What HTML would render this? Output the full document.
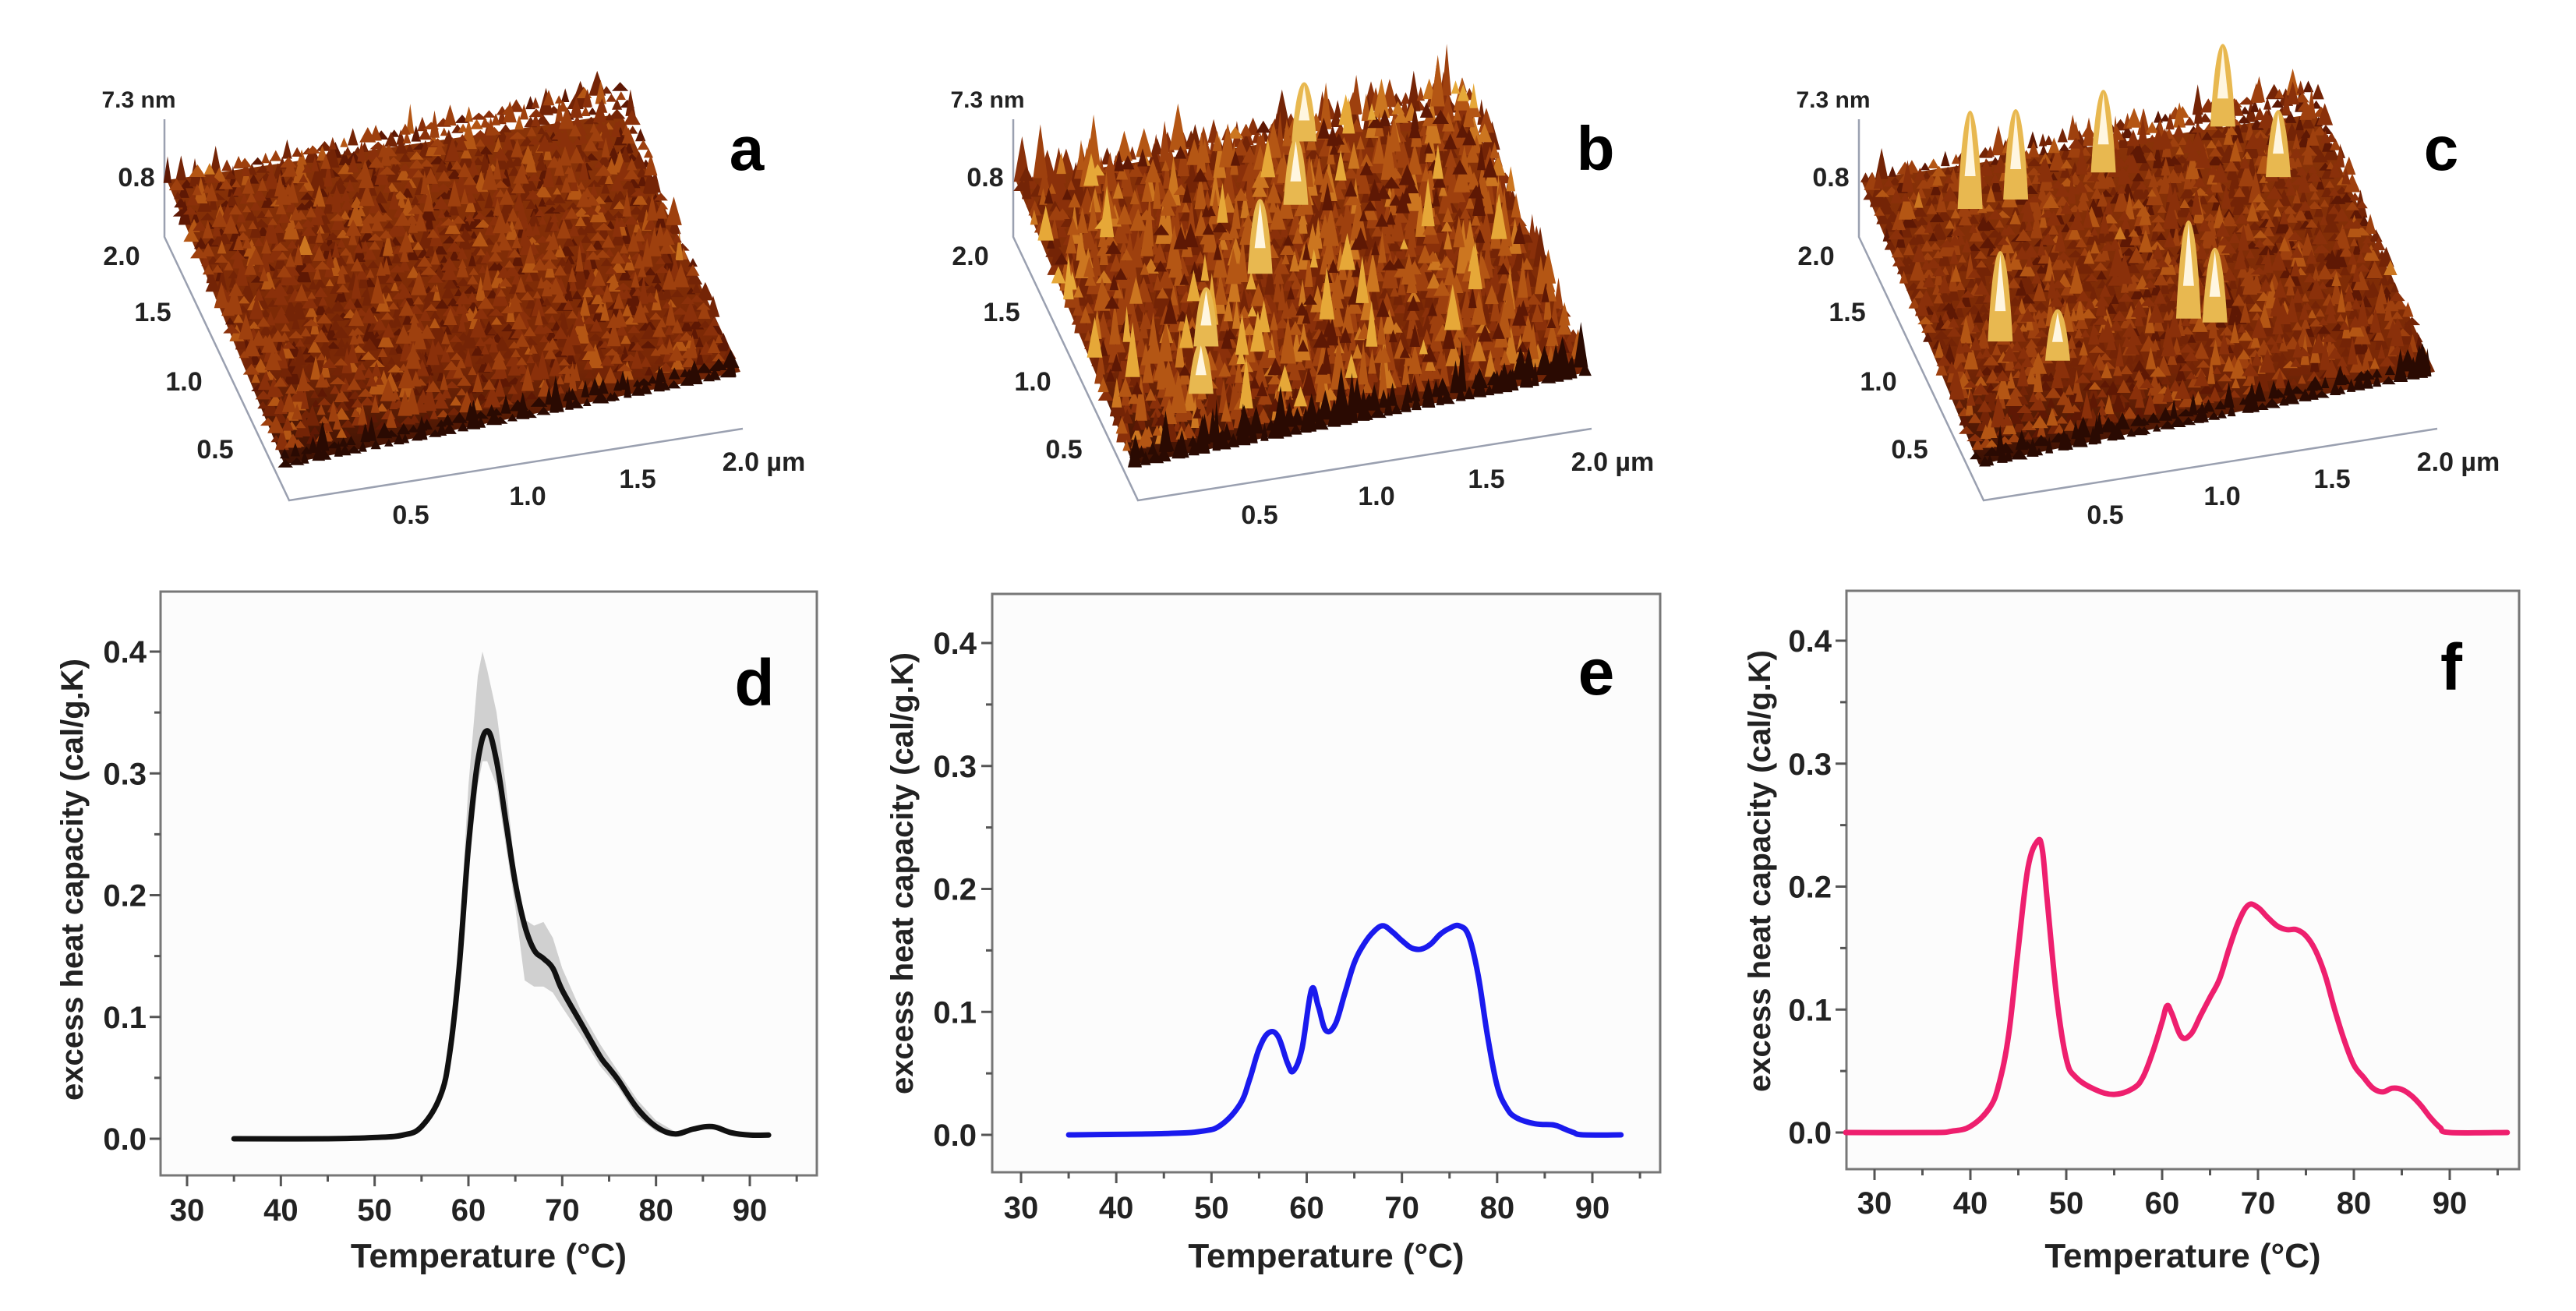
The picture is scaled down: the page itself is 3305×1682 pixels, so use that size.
<!DOCTYPE html>
<html><head><meta charset="utf-8"><title>AFM and DSC figure</title>
<style>
html,body{margin:0;padding:0;background:#fff;}
svg{display:block;font-family:"Liberation Sans",Arial,sans-serif;}
</style></head>
<body>
<svg id="fig" width="3305" height="1682" viewBox="0 0 3305 1682" xmlns="http://www.w3.org/2000/svg">
<rect x="0" y="0" width="3305" height="1682" fill="#ffffff"/>
<defs>
<linearGradient id="afmBase" x1="0" y1="0" x2="0" y2="1">
<stop offset="0" stop-color="#8a3408"/><stop offset="0.7" stop-color="#7a2806"/><stop offset="1" stop-color="#3a1003"/>
</linearGradient>
</defs>
<g id="afm"></g>
<g id="charts"></g>
</svg>
<script>
// ---------- DSC data ----------
const dT = [35,45,50,53,55,57,58,59,60,61,62,63,64,65,66,67,68,69,70,72,74,75,76,78,80,82,84,86,88,90,92];
const dCp = [0,0,0.001,0.003,0.01,0.035,0.07,0.14,0.24,0.31,0.335,0.31,0.26,0.21,0.175,0.155,0.148,0.14,0.122,0.095,0.068,0.058,0.048,0.025,0.01,0.004,0.008,0.01,0.005,0.003,0.003];
const dBandT = [58,59,60,61,61.5,62,63,64,65,66,67,68,69,70,72,74,76,78,80,82];
const dBandHi = [0.075,0.16,0.29,0.38,0.40,0.385,0.35,0.29,0.22,0.18,0.175,0.178,0.165,0.14,0.105,0.078,0.055,0.032,0.015,0.006];
const dBandLo = [0.065,0.13,0.22,0.29,0.31,0.31,0.29,0.24,0.19,0.13,0.125,0.125,0.12,0.108,0.085,0.06,0.042,0.018,0.006,0.002];

const eT = [35,45,49,51,53,54,55,56,57,58,58.6,59.5,60.5,61.2,62,63,64,65,66,67,68,69,70,71,72,73,74,75,76,77,78,79,80,81,82,84,86,87,88,89,93];
const eCp = [0,0.001,0.003,0.008,0.025,0.045,0.07,0.083,0.08,0.058,0.052,0.07,0.118,0.105,0.085,0.09,0.115,0.14,0.155,0.165,0.17,0.165,0.158,0.152,0.151,0.155,0.163,0.168,0.17,0.162,0.13,0.08,0.04,0.022,0.014,0.009,0.008,0.005,0.002,0,0];

const fT = [27,36,38,40,42,43,44,45,46,47,47.5,48,49,50,51,53,55,57,58,59,60,60.5,61,62,63,64,65,66,67,68,69,70,71,72,73,74,75,76,77,78,79,80,81,82,83,84,85,86,87,88,89,90,96];
const fCp = [0,0,0.001,0.005,0.02,0.04,0.08,0.15,0.215,0.237,0.23,0.19,0.11,0.06,0.045,0.035,0.031,0.036,0.045,0.065,0.09,0.103,0.097,0.078,0.08,0.095,0.11,0.125,0.15,0.172,0.185,0.183,0.175,0.168,0.165,0.165,0.16,0.148,0.128,0.1,0.075,0.055,0.045,0.036,0.033,0.036,0.035,0.03,0.022,0.012,0.004,0,0];

const xTicks = [30,40,50,60,70,80,90];
const yTicks = [0.0,0.1,0.2,0.3,0.4];
const yTickLabels = ["0.0","0.1","0.2","0.3","0.4"];
const panelLetters = ["d","e","f"];

const NS = "http://www.w3.org/2000/svg";
function mk(tag, attrs, parent){
  const el = document.createElementNS(NS, tag);
  for (const k in attrs) el.setAttribute(k, attrs[k]);
  parent.appendChild(el);
  return el;
}
function smoothPath(pts){
  let d = "M" + pts[0][0].toFixed(1) + "," + pts[0][1].toFixed(1);
  for (let i=0;i<pts.length-1;i++){
    const p0 = pts[i-1]||pts[i], p1=pts[i], p2=pts[i+1], p3=pts[i+2]||pts[i+1];
    const t=0.18;
    const c1=[p1[0]+(p2[0]-p0[0])*t, p1[1]+(p2[1]-p0[1])*t];
    const c2=[p2[0]-(p3[0]-p1[0])*t, p2[1]-(p3[1]-p1[1])*t];
    d += " C"+c1[0].toFixed(1)+","+c1[1].toFixed(1)+" "+c2[0].toFixed(1)+","+c2[1].toFixed(1)+" "+p2[0].toFixed(1)+","+p2[1].toFixed(1);
  }
  return d;
}

const chartsG = document.getElementById("charts");
const chartCfgs = [
  {left:206,right:1048,top:759,bottom:1508,x30:240,x90:962,y0:1461,y4:836,labR:188,ytx:92,tly:1552,lx:968,ly:875,color:"#111111",T:dT,V:dCp,band:true},
  {left:1273,right:2130,top:762,bottom:1504,x30:1310,x90:2043,y0:1456,y4:825,labR:1253,ytx:1157,tly:1549,lx:2048,ly:861,color:"#1a1aee",T:eT,V:eCp,band:false},
  {left:2369,right:3232,top:758,bottom:1500,x30:2405,x90:3143,y0:1453,y4:822,labR:2350,ytx:2257,tly:1543,lx:3145,ly:855,color:"#ee1f6e",T:fT,V:fCp,band:false}
];

chartCfgs.forEach((c, idx)=>{
  const g = mk("g", {}, chartsG);
  
  
  const xs = v => c.x30 + (v-30)*(c.x90-c.x30)/60;
  const ys = v => c.y0 + v*(c.y4-c.y0)/0.4;
  const bg = mk("rect", {x:c.left,y:c.top,width:c.right-c.left,height:c.bottom-c.top,fill:"#fcfcfc",stroke:"#777","stroke-width":3}, g);
  
  
  for (let i=0; i<=8; i++){
    const v = i*0.05;
    const major = i%2===0;
    const t = mk("line",{x1:c.left,x2:c.left-(major?14:8),y1:ys(v),y2:ys(v),stroke:"#555","stroke-width":3},g);
    
    
  }
  yTicks.forEach((v,i)=>{
    const tl = mk("text",{x:c.labR,y:ys(v)+14,"text-anchor":"end","font-size":40,"font-weight":"bold",fill:"#222"},g);
    tl.textContent = yTickLabels[i];
    
    
  });
  for (let v=30; v<=95; v+=5){
    const major = v%10===0;
    const t = mk("line",{x1:xs(v),x2:xs(v),y1:c.bottom,y2:c.bottom+(major?14:8),stroke:"#555","stroke-width":3},g);
    
    
  }
  xTicks.forEach(v=>{
    const tl = mk("text",{x:xs(v),y:c.tly+14,"text-anchor":"middle","font-size":40,"font-weight":"bold",fill:"#222"},g);
    tl.textContent = String(v);
    
    
  });
  const xt = mk("text",{x:(c.left+c.right)/2,y:1626,"text-anchor":"middle","font-size":44,"font-weight":"bold",fill:"#222"},g);
  xt.textContent = "Temperature (\u00B0C)";
  
  
  const ycy = (ys(0)+ys(0.4))/2 - 20;
  const yt = mk("text",{x:c.ytx,y:ycy,"text-anchor":"middle","font-size":40,"font-weight":"bold",fill:"#222",transform:"rotate(-90 "+c.ytx+" "+ycy+") translate(0,14)"},g);
  yt.textContent = "excess heat capacity (cal/g.K)";
  
  
  const pl = mk("text",{x:c.lx,y:c.ly+30,"text-anchor":"middle","font-size":84,"font-weight":"bold",fill:"#000"},g);
  pl.textContent = panelLetters[idx];
  
  
  if (c.band){
    const hi = dBandT.map((t,i)=>[xs(t),ys(dBandHi[i])]);
    const lo = dBandT.map((t,i)=>[xs(t),ys(dBandLo[i])]).reverse();
    const bp = mk("path",{d:"M"+hi.concat(lo).map(p=>p[0].toFixed(1)+","+p[1].toFixed(1)).join(" L")+"Z",fill:"#c8c8c8",opacity:0.85},g);
    
    
  }
  const pts = c.T.map((t,i)=>[xs(t),ys(c.V[i])]);
  const ln = mk("path",{d:smoothPath(pts),fill:"none",stroke:c.color,"stroke-width":7,"stroke-linejoin":"round","stroke-linecap":"round"},g);
  
  
});

// ---------- AFM panels (decorative texture) ----------
const afmG = document.getElementById("afm");
const afmLetters = ["a","b","c"];
const afmOffsets = [0,1089,2174];
const afmAmp = [20,38,22];
const yellowBias = [0.4,1.2,0.5];
const bigPeaks = [[],[[0.42,0.55,90],[0.55,0.75,80],[0.62,0.95,70],[0.25,0.35,70],[0.2,0.2,60]],[[0.2,0.85,120],[0.3,0.85,110],[0.5,0.88,100],[0.15,0.4,110],[0.55,0.35,120],[0.6,0.32,90],[0.78,0.95,100],[0.85,0.75,80],[0.25,0.3,60]]];
let seed = 12345;
function rnd(){ seed = (seed*16807) % 2147483647; return seed/2147483647; }
const spikeCols = ["#5e1804","#742406","#8a300a","#9e400e","#b45614","#cc7620","#e6a838"];
afmOffsets.forEach((ox, k)=>{
  const g = mk("g",{},afmG);
  
  
  const TL=[214+ox,231], TR=[797+ox,146], BR=[950+ox,477], BL=[365+ox,596];
  const P=(u,v)=>[BL[0]+u*(BR[0]-BL[0])+v*(TL[0]-BL[0]), BL[1]+u*(BR[1]-BL[1])+v*(TL[1]-BL[1])];
  const ax = mk("path",{d:"M"+(211+ox)+",153 L"+(211+ox)+",304 L"+(371+ox)+",642 L"+(953+ox)+",550",fill:"none",stroke:"#9aa0b0","stroke-width":2.5},g);
  
  
  mk("path",{d:"M"+TL[0]+","+TL[1]+" L"+TR[0]+","+TR[1]+" L"+BR[0]+","+BR[1]+" L"+BL[0]+","+BL[1]+"Z",fill:"url(#afmBase)"},g);
  let d = {};
  const rows=34, cols=46;
  for (let r=rows; r>=0; r--){
    for (let cI=0; cI<=cols; cI++){
      const u=(cI+rnd()*0.8)/ (cols+1), v=r/rows;
      const p=P(u,v);
      const h=afmAmp[k]*(0.25+rnd()*rnd()*1.6);
      const w=5+rnd()*6;
      let ci=Math.min(6,Math.floor(rnd()*4 + rnd()*rnd()*3*yellowBias[k] + (h/afmAmp[k]-0.5)*yellowBias[k]));
      if (ci<0) ci=0;
      const col = (r<2)? "#2a0a02" : spikeCols[ci];
      if(!d[col]) d[col]="";
      d[col]+="M"+(p[0]-w).toFixed(1)+","+(p[1]+4).toFixed(1)+" L"+p[0].toFixed(1)+","+(p[1]-h).toFixed(1)+" L"+(p[0]+w).toFixed(1)+","+(p[1]+4).toFixed(1)+"Z";
    }
  }
  for (const col in d){ mk("path",{d:d[col],fill:col},g); }
  bigPeaks[k].forEach(bp=>{
    const p=P(bp[0],bp[1]);
    mk("path",{d:"M"+(p[0]-16)+","+(p[1]+6)+" Q"+(p[0]-10)+","+(p[1]-bp[2])+" "+p[0]+","+(p[1]-bp[2])+" Q"+(p[0]+10)+","+(p[1]-bp[2])+" "+(p[0]+16)+","+(p[1]+6)+"Z",fill:"#e8b850"},g);
    mk("path",{d:"M"+(p[0]-7)+","+(p[1]-bp[2]*0.3)+" L"+p[0]+","+(p[1]-bp[2]+4)+" L"+(p[0]+7)+","+(p[1]-bp[2]*0.3)+"Z",fill:"#fff6e0"},g);
  });
  const labels=[["7.3 nm",178,138,30],["0.8",175,239,34],["2.0",156,340,34],["1.5",196,412,34],["1.0",236,501,34],["0.5",276,588,34],["0.5",527,672,34],["1.0",677,648,34],["1.5",818,626,34],["2.0 \u00B5m",980,604,34]];
  labels.forEach(l=>{
    const t = mk("text",{x:l[1]+ox,y:l[2],"text-anchor":"middle","font-size":l[3],"font-weight":"bold",fill:"#222"},g);
    t.textContent=l[0];
    
    
  });
  const lt = mk("text",{x:958+ox,y:218,"text-anchor":"middle","font-size":80,"font-weight":"bold",fill:"#000"},g);
  lt.textContent=afmLetters[k];
  
  
});
</script>
</body></html>
